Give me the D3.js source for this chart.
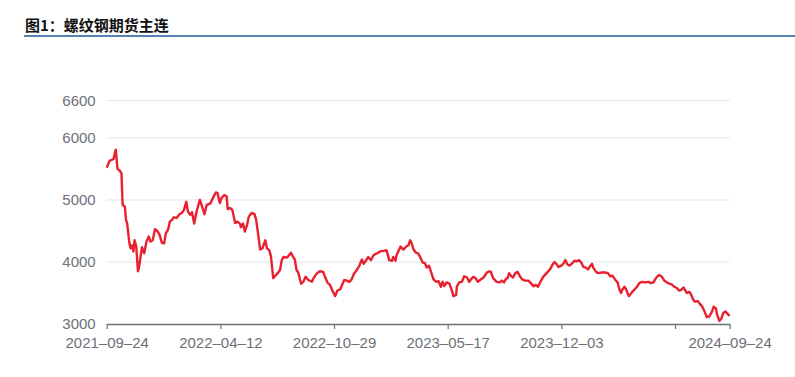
<!DOCTYPE html>
<html>
<head>
<meta charset="utf-8">
<script src="https://cdn.jsdelivr.net/npm/d3@7/dist/d3.min.js"></script>
<style>
  body { margin: 0; background: #fff; }
  svg { display: block; }
</style>
</head>
<body>
<div id="chart"></div>
<script>
// 螺纹钢期货主连 closing prices
const title = "图1：螺纹钢期货主连";

const dates = [
  "2021-09-24","2021-09-29","2021-10-06","2021-10-09","2021-10-10","2021-10-13","2021-10-17","2021-10-20","2021-10-22","2021-10-26",
  "2021-10-28","2021-10-30","2021-11-03","2021-11-05","2021-11-08","2021-11-10","2021-11-12","2021-11-15","2021-11-18","2021-11-20",
  "2021-11-25","2021-11-29","2021-12-03","2021-12-07","2021-12-10","2021-12-14","2021-12-18","2021-12-22","2021-12-26","2021-12-30",
  "2022-01-03","2022-01-06","2022-01-10","2022-01-13","2022-01-17","2022-01-20","2022-01-25","2022-01-30","2022-02-03","2022-02-07",
  "2022-02-11","2022-02-14","2022-02-18","2022-02-21","2022-02-25","2022-03-01","2022-03-07","2022-03-11","2022-03-15","2022-03-19",
  "2022-03-25","2022-03-31","2022-04-04","2022-04-07","2022-04-11","2022-04-14","2022-04-19","2022-04-23","2022-04-25","2022-04-29",
  "2022-05-03","2022-05-08","2022-05-12","2022-05-17","2022-05-18","2022-05-22","2022-05-25","2022-05-29","2022-06-01","2022-06-06",
  "2022-06-11","2022-06-14","2022-06-18","2022-06-21","2022-06-25","2022-06-30","2022-07-03","2022-07-07","2022-07-10","2022-07-14",
  "2022-07-17","2022-07-22","2022-07-26","2022-07-29","2022-08-01","2022-08-07","2022-08-11","2022-08-14","2022-08-18","2022-08-21",
  "2022-08-24","2022-08-27","2022-09-01","2022-09-05","2022-09-09","2022-09-14","2022-09-20","2022-09-23","2022-09-29","2022-10-04",
  "2022-10-10","2022-10-13","2022-10-18","2022-10-22","2022-10-26","2022-10-31","2022-11-04","2022-11-09","2022-11-13","2022-11-16",
  "2022-11-20","2022-11-25","2022-11-29","2022-12-03","2022-12-08","2022-12-13","2022-12-17","2022-12-20","2022-12-24","2022-12-28",
  "2023-01-02","2023-01-06","2023-01-10","2023-01-13","2023-01-18","2023-01-24","2023-01-29","2023-01-31","2023-02-03","2023-02-08",
  "2023-02-10","2023-02-14","2023-02-16","2023-02-20","2023-02-23","2023-02-28","2023-03-05","2023-03-09","2023-03-12","2023-03-15",
  "2023-03-18","2023-03-22","2023-03-26","2023-03-29","2023-04-03","2023-04-07","2023-04-10","2023-04-14","2023-04-17","2023-04-22",
  "2023-04-27","2023-05-01","2023-05-05","2023-05-08","2023-05-11","2023-05-15","2023-05-20","2023-05-24","2023-05-27","2023-06-01",
  "2023-06-02","2023-06-06","2023-06-11","2023-06-15","2023-06-20","2023-06-24","2023-06-27","2023-07-01","2023-07-05","2023-07-09",
  "2023-07-13","2023-07-19","2023-07-25","2023-07-29","2023-08-01","2023-08-05","2023-08-11","2023-08-17","2023-08-20","2023-08-24",
  "2023-08-27","2023-08-31","2023-09-02","2023-09-06","2023-09-09","2023-09-13","2023-09-17","2023-09-21","2023-09-25","2023-09-30",
  "2023-10-06","2023-10-11","2023-10-15","2023-10-19","2023-10-23","2023-10-27","2023-11-01","2023-11-07","2023-11-13","2023-11-17",
  "2023-11-21","2023-11-24","2023-11-28","2023-12-03","2023-12-07","2023-12-10","2023-12-13","2023-12-17","2023-12-21","2023-12-26",
  "2023-12-30","2024-01-03","2024-01-07","2024-01-11","2024-01-15","2024-01-19","2024-01-23","2024-01-26","2024-01-28","2024-02-02",
  "2024-02-06","2024-02-12","2024-02-18","2024-02-23","2024-02-27","2024-03-02","2024-03-07","2024-03-11","2024-03-14","2024-03-17",
  "2024-03-19","2024-03-23","2024-03-26","2024-03-29","2024-03-31","2024-04-05","2024-04-10","2024-04-14","2024-04-18","2024-04-23",
  "2024-04-28","2024-05-04","2024-05-09","2024-05-13","2024-05-16","2024-05-19","2024-05-23","2024-05-28","2024-06-01","2024-06-06",
  "2024-06-10","2024-06-14","2024-06-19","2024-06-23","2024-06-27","2024-07-01","2024-07-05","2024-07-08","2024-07-11","2024-07-15",
  "2024-07-18","2024-07-22","2024-07-25","2024-07-30","2024-08-03","2024-08-07","2024-08-11","2024-08-15","2024-08-19","2024-08-24",
  "2024-08-27","2024-08-31","2024-09-02","2024-09-06","2024-09-09","2024-09-13","2024-09-17","2024-09-21","2024-09-24"
];

const prices = [
  5520,5630,5660,5780,5810,5500,5470,5430,4920,4890,
  4680,4620,4300,4220,4270,4170,4350,4250,3850,3920,
  4240,4140,4330,4410,4330,4350,4530,4500,4440,4310,
  4300,4460,4520,4650,4680,4720,4710,4770,4790,4840,
  4970,4810,4760,4800,4620,4810,5000,4890,4770,4920,
  4940,5050,5120,5110,4950,5030,5080,5060,4850,4870,
  4840,4630,4650,4610,4560,4620,4490,4600,4730,4790,
  4770,4680,4410,4200,4220,4350,4220,4190,4090,3740,
  3770,3820,3870,4030,4080,4070,4110,4150,4080,4040,
  3870,3830,3650,3680,3760,3710,3680,3740,3820,3850,
  3840,3760,3660,3630,3540,3450,3540,3560,3650,3710,
  3700,3680,3720,3810,3870,3950,4040,3970,4020,4080,
  4030,4100,4130,4140,4170,4180,4190,4140,4030,4020,
  4080,4020,4110,4190,4250,4200,4250,4270,4350,4290,
  4200,4150,4140,4090,3990,3980,3910,3940,3860,3720,
  3680,3690,3600,3680,3610,3670,3650,3550,3450,3470,
  3600,3670,3680,3770,3750,3680,3720,3760,3740,3680,
  3710,3750,3830,3850,3840,3740,3680,3670,3700,3670,
  3720,3750,3820,3770,3750,3820,3840,3770,3720,3700,
  3700,3650,3610,3630,3600,3680,3760,3820,3880,3950,
  4000,3970,3920,3940,3980,4030,3970,3940,3970,4020,
  4010,4030,3990,3920,3910,3880,3940,3970,3910,3840,
  3820,3830,3830,3820,3770,3780,3710,3670,3560,3500,
  3550,3600,3560,3480,3450,3510,3560,3600,3660,3680,
  3670,3680,3660,3670,3720,3760,3790,3760,3700,3670,
  3650,3640,3600,3580,3540,3550,3590,3540,3500,3520,
  3480,3390,3360,3370,3320,3280,3200,3110,3120,3200,
  3280,3250,3150,3050,3080,3180,3200,3160,3130
];

// y axis ticks shown on the chart
const yTicks = [3000, 4000, 5000, 6000, 6600];
// x ticks: one every 200 days; 2024-06-20 has a tick but no label
const xTicks = ["2021-09-24","2022-04-12","2022-10-29","2023-05-17","2023-12-03","2024-06-20","2024-09-24"];
const xHidden = ["2024-06-20"];

const width = 795, height = 377;
const margin = {left: 106.7, right: 65.4, top: 100.7, bottom: 53};

const parse = d3.timeParse("%Y-%m-%d");
const fmt = d3.timeFormat("%Y–%m–%d");
const data = dates.map((d, i) => ({date: parse(d), value: prices[i]}));

const svg = d3.select("#chart").append("svg")
  .attr("width", width)
  .attr("height", height);

// title + rule
svg.append("text")
  .attr("x", 25)
  .attr("y", 31)
  .attr("font-family", "'Noto Sans CJK SC', sans-serif")
  .attr("font-size", 15)
  .attr("font-weight", "bold")
  .attr("fill", "#111")
  .text(title);

svg.append("line")
  .attr("x1", 24).attr("x2", width)
  .attr("y1", 36).attr("y2", 36)
  .attr("stroke", "#1d5a95")
  .attr("stroke-width", 1.6);

let x = d3.scaleTime()
  .domain([parse(xTicks[0]), parse(xTicks[xTicks.length - 1])])
  .range([margin.left, width - margin.right]);

let y = d3.scaleLinear()
  .domain([3000, 6600])
  .range([height - margin.bottom, margin.top]);

// gridlines
svg.append("g")
  .selectAll("line")
  .data(yTicks.slice(1))
  .enter().append("line")
  .attr("x1", x.range()[0]).attr("x2", x.range()[1])
  .attr("y1", d => y(d)).attr("y2", d => y(d))
  .attr("stroke", "#e0e3ee")
  .attr("stroke-width", 1);

// y axis labels
let yAxis = svg.append("g")
  .attr("transform", `translate(${margin.left - 11},0)`)
  .call(d3.axisLeft(y).tickValues(yTicks).tickFormat(d3.format("d")).tickSize(0).tickPadding(0));
yAxis.select(".domain").remove();
yAxis.selectAll("text")
  .attr("font-family", "'Liberation Sans', Arial, sans-serif")
  .attr("font-size", 15)
  .attr("fill", "#6e7079");

// x axis
let xAxis = svg.append("g")
  .attr("transform", `translate(0,${height - margin.bottom})`)
  .call(d3.axisBottom(x)
    .tickValues(xTicks.map(parse))
    .tickSizeInner(5)
    .tickSizeOuter(0)
    .tickPadding(8)
    .tickFormat(d => xHidden.includes(d3.timeFormat("%Y-%m-%d")(d)) ? "" : fmt(d)));
xAxis.select(".domain")
  .attr("stroke", "#6e7079")
  .attr("stroke-width", 1.5);
xAxis.selectAll(".tick line")
  .attr("stroke", "#6e7079")
  .attr("stroke-width", 1.2);
xAxis.selectAll("text")
  .attr("font-family", "'Liberation Sans', Arial, sans-serif")
  .attr("font-size", 15)
  .attr("fill", "#6e7079");

// price line
let line = d3.line()
  .x(d => x(d.date))
  .y(d => y(d.value));

svg.append("path")
  .datum(data)
  .attr("fill", "none")
  .attr("stroke", "#e8202f")
  .attr("stroke-width", 2.4)
  .attr("stroke-linejoin", "round")
  .attr("d", line);
</script>
</body>
</html>
